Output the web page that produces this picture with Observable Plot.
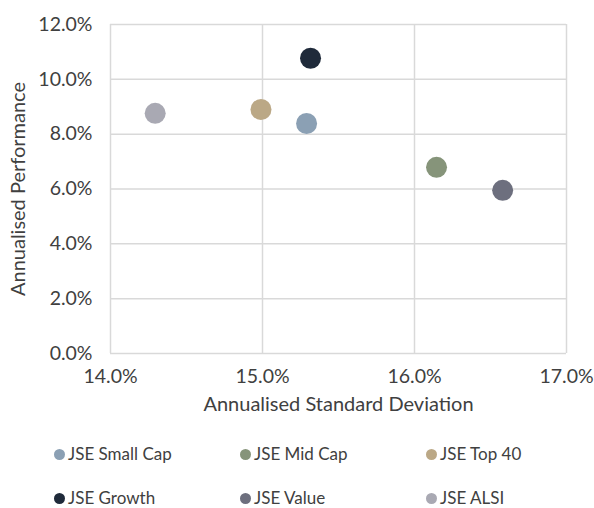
<!DOCTYPE html>
<html>
<head>
<meta charset="utf-8">
<script src="https://cdn.jsdelivr.net/npm/d3@7"></script>
<script src="https://cdn.jsdelivr.net/npm/@observablehq/plot@0.6"></script>
<style>
  html, body { margin: 0; padding: 0; background: #fff; }
  body { width: 594px; font-family: Lato, "Noto Sans", sans-serif; color: #404040; }
  #chart svg { display: block; }
  #legend { display: grid; grid-template-columns: 186px 186px 186px; padding-left: 54px; row-gap: 26px; margin-top: 15px; }
  .item { display: flex; align-items: center; font-size: 17px; height: 18px; line-height: 18px; }
  .sw { width: 11px; height: 11px; border-radius: 50%; margin-right: 3px; flex: none; }
</style>
</head>
<body>
<div id="chart"></div>
<div id="legend"></div>
<script>
const names = ["JSE Small Cap", "JSE Mid Cap", "JSE Top 40", "JSE Growth", "JSE Value", "JSE ALSI"];
const stdDev = [0.1529, 0.16145, 0.1499, 0.15316, 0.1658, 0.14294];
const performance = [0.0839, 0.0679, 0.0890, 0.1077, 0.0595, 0.0876];
const colors = ["#8ba0b4", "#86947a", "#bba886", "#1f2a3a", "#6d6f7e", "#a9a9b3"];
const xTicks = [0.14, 0.15, 0.16, 0.17];
const yTicks = [0, 0.02, 0.04, 0.06, 0.08, 0.10, 0.12];
const xLabel = "Annualised Standard Deviation";
const yLabel = "Annualised Performance";

const data = names.map((n, i) => ({name: n, x: stdDev[i], y: performance[i], color: colors[i]}));
const fmt = d3.format(".1%");

const chart = Plot.plot({
  width: 594,
  height: 430,
  marginLeft: 110,
  marginRight: 28,
  marginTop: 24,
  marginBottom: 77,
  style: {fontFamily: "Lato, 'Noto Sans', sans-serif", fontSize: "19.5px", color: "#404040", background: "#fff"},
  x: {domain: [0.14, 0.17], ticks: xTicks, tickFormat: fmt, label: null},
  y: {domain: [0, 0.12], ticks: yTicks, tickFormat: fmt, label: null},
  marks: [
    Plot.gridX(xTicks, {stroke: "#d9d9d9", strokeOpacity: 1, strokeWidth: 1.5}),
    Plot.gridY(yTicks, {stroke: "#d9d9d9", strokeOpacity: 1, strokeWidth: 1.5}),
    Plot.axisX(xTicks, {tickSize: 0, tickPadding: 16, tickFormat: fmt, label: null, fill: "#404040", fontSize: 19.5}),
    Plot.axisY(yTicks, {tickSize: 0, tickPadding: 18, tickFormat: fmt, label: null, fill: "#404040", fontSize: 19.5}),
    Plot.text([xLabel], {frameAnchor: "bottom", dy: 57, fontSize: 20, fill: "#404040"}),
    Plot.text([yLabel], {frameAnchor: "left", textAnchor: "middle", rotate: -90, dx: -92, fontSize: 20, fill: "#404040"}),
    Plot.dot(data, {x: "x", y: "y", r: 10.5, fill: "color", stroke: null})
  ]
});
document.getElementById("chart").appendChild(chart);

const legend = document.getElementById("legend");
names.forEach((n, i) => {
  const it = document.createElement("div");
  it.className = "item";
  const sw = document.createElement("span");
  sw.className = "sw";
  sw.style.background = colors[i];
  it.appendChild(sw);
  it.appendChild(document.createTextNode(n));
  legend.appendChild(it);
});
</script>
</body>
</html>
